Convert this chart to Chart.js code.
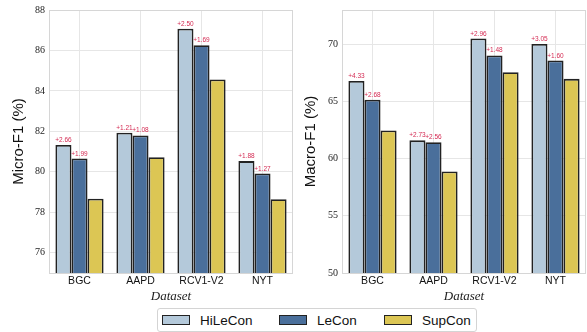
<!DOCTYPE html>
<html>
<head>
<meta charset="utf-8">
<script src="https://cdn.jsdelivr.net/npm/chart.js@4.4.1/dist/chart.umd.min.js"></script>
<style>
  html, body { margin: 0; padding: 0; background: #fff; }
  body { width: 587px; height: 332px; position: relative; overflow: hidden; }
  #c1 { position: absolute; left: 0; top: 0; }
  #c2 { position: absolute; left: 293px; top: 0; }
  #legend {
    position: absolute; left: 157px; top: 308px; width: 320px; height: 24px;
    border: 1px solid #d4d4d4; border-radius: 3px; box-sizing: border-box;
    font-family: "Liberation Sans", Arial, sans-serif; font-size: 13.5px; color: #111;
  }
  .item { position: absolute; top: 0; height: 22px; display: flex; align-items: center; }
  .sw { width: 26px; height: 8px; border: 1.6px solid #222; margin-right: 10px; }
</style>
</head>
<body>
<canvas id="c1" width="294" height="305"></canvas>
<canvas id="c2" width="294" height="305"></canvas>
<div id="legend"></div>
<script>
// ---- data ----
const categories = ["BGC", "AAPD", "RCV1-V2", "NYT"];
const seriesNames = ["HiLeCon", "LeCon", "SupCon"];

const microHiLeCon = [81.33, 81.93, 87.07, 80.53];
const microLeCon   = [80.66, 81.80, 86.26, 79.92];
const microSupCon  = [78.67, 80.72, 84.57, 78.65];
const microGainHi  = ["+2.66", "+1.21", "+2.50", "+1.88"];
const microGainLe  = ["+1.99", "+1.08", "+1.69", "+1.27"];

const macroHiLeCon = [66.80, 61.60, 70.51, 70.03];
const macroLeCon   = [65.15, 61.43, 69.03, 68.58];
const macroSupCon  = [62.47, 58.87, 67.55, 66.98];
const macroGainHi  = ["+4.33", "+2.73", "+2.96", "+3.05"];
const macroGainLe  = ["+2.68", "+2.56", "+1.48", "+1.60"];

const microTicks = [76, 78, 80, 82, 84, 86, 88];
const macroTicks = [50, 55, 60, 65, 70];

// ---- styles ----
const colors = ["#b4c9da", "#4a6f9b", "#dcc654"];
const SANS = '"Liberation Sans", Arial, sans-serif';
const SERIF = '"Liberation Serif", "Times New Roman", serif';

const framePlugin = {
  id: 'frame',
  afterDraw(chart) {
    const {ctx, chartArea: a} = chart;
    ctx.save();
    ctx.strokeStyle = '#d6d6d6';
    ctx.lineWidth = 1;
    ctx.strokeRect(Math.round(a.left) + 0.5, Math.round(a.top) + 0.5,
                   Math.round(a.right - a.left) - 1, Math.round(a.bottom - a.top));
    ctx.restore();
  }
};

const gainPlugin = {
  id: 'gains',
  afterDatasetsDraw(chart, args, opts) {
    const {ctx} = chart;
    ctx.save();
    ctx.font = '6.5px ' + SANS;
    ctx.fillStyle = '#d42a52';
    ctx.textAlign = 'center';
    ctx.textBaseline = 'bottom';
    opts.labels.forEach((arr, di) => {
      const meta = chart.getDatasetMeta(di);
      meta.data.forEach((bar, i) => {
        ctx.fillText(arr[i], bar.x, bar.y - 1.5);
      });
    });
    ctx.restore();
  }
};

function makeChart(id, data, min, max, ticks, title, gains, titlePad) {
  return new Chart(document.getElementById(id), {
    type: 'bar',
    data: {
      labels: categories,
      datasets: data.map((d, i) => ({
        label: seriesNames[i],
        data: d,
        backgroundColor: colors[i],
        borderColor: '#222222',
        borderWidth: 1.8,
        borderSkipped: false,
        categoryPercentage: 0.79,
        barPercentage: 1.0
      }))
    },
    options: {
      responsive: false,
      animation: false,
      devicePixelRatio: 1,
      layout: { padding: { left: 0, right: 1, top: 7, bottom: 0 } },
      plugins: {
        legend: { display: false },
        tooltip: { enabled: false },
        gains: { labels: gains }
      },
      scales: {
        x: {
          grid: { color: '#e6e6e6', lineWidth: 1, offset: false, drawTicks: false },
          border: { display: false },
          ticks: { font: { family: SANS, size: 10.5 }, color: '#111', padding: 2 },
          title: { display: true, text: 'Dataset', font: { family: SERIF, size: 13, style: 'italic' },
                   color: '#222', padding: { top: 0, bottom: 1 } },
          afterFit(s) { s.height = 32; }
        },
        y: {
          min: min, max: max,
          grid: { color: '#e6e6e6', lineWidth: 1, drawTicks: false },
          border: { display: false },
          afterBuildTicks(s) { s.ticks = ticks.map(v => ({ value: v })); },
          ticks: { font: { family: SERIF, size: 10 }, color: '#222', padding: 4 },
          title: { display: true, text: title, font: { family: SANS, size: 15 }, color: '#111',
                   padding: { top: titlePad, bottom: 0 } },
          afterFit(s) { s.width = 49; }
        }
      }
    },
    plugins: [framePlugin, gainPlugin]
  });
}

makeChart('c1', [microHiLeCon, microLeCon, microSupCon], 75, 88, microTicks,
          'Micro-F1 (%)', [microGainHi, microGainLe], 10);
makeChart('c2', [macroHiLeCon, macroLeCon, macroSupCon], 50, 73, macroTicks,
          'Macro-F1 (%)', [macroGainHi, macroGainLe], 9);

// legend (HTML text)
const legend = document.getElementById('legend');
const itemLeft = [4, 121, 226];
seriesNames.forEach((n, i) => {
  const it = document.createElement('div');
  it.className = 'item';
  it.style.left = itemLeft[i] + 'px';
  const sw = document.createElement('div');
  sw.className = 'sw';
  sw.style.background = colors[i];
  const t = document.createElement('span');
  t.textContent = n;
  it.appendChild(sw); it.appendChild(t);
  legend.appendChild(it);
});
</script>
</body>
</html>
